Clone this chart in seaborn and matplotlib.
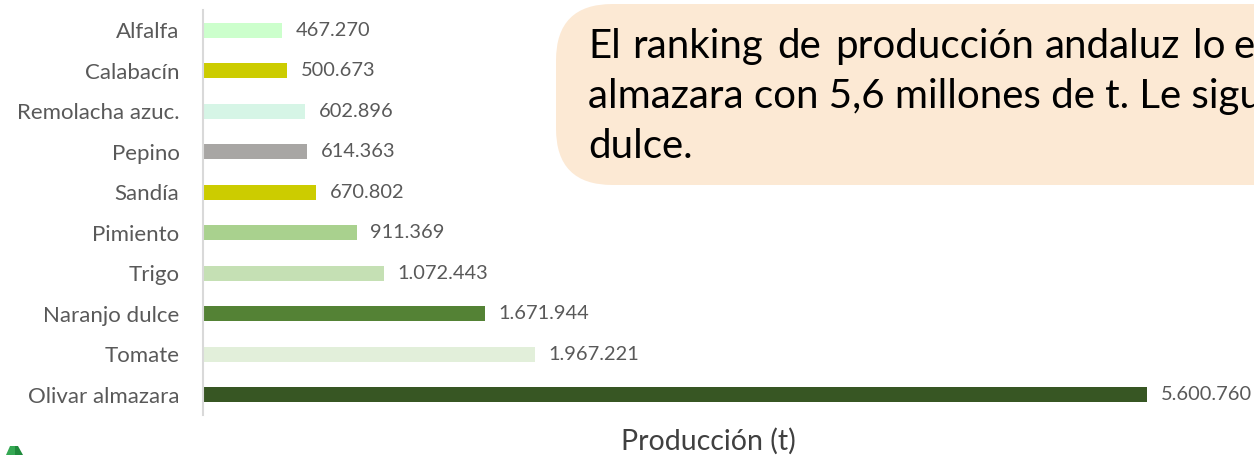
import matplotlib
matplotlib.use("Agg")
import matplotlib.pyplot as plt
import seaborn as sns
import pandas as pd
from matplotlib.patches import FancyBboxPatch, Polygon

categories = ["Alfalfa", "Calabacín", "Remolacha azuc.", "Pepino", "Sandía",
              "Pimiento", "Trigo", "Naranjo dulce", "Tomate", "Olivar almazara"]
values = [467270, 500673, 602896, 614363, 670802,
          911369, 1072443, 1671944, 1967221, 5600760]
value_labels = ["467.270", "500.673", "602.896", "614.363", "670.802",
                "911.369", "1.072.443", "1.671.944", "1.967.221", "5.600.760"]
colors = ["#ccffcc", "#cccc00", "#d6f5e6", "#a8a6a4", "#cccc00",
          "#a9d18e", "#c5e0b4", "#548235", "#e2efda", "#375623"]
xlabel = "Producción (t)"
note_line1 = ["El", "ranking", "de", "producción", "andaluz", "lo", "e"]
note_line2 = "almazara con 5,6 millones de t. Le sigu"
note_line3 = "dulce."

sns.set_theme(style="white")
plt.rcParams["font.family"] = ["Lato", "DejaVu Sans"]

df = pd.DataFrame({"cat": categories, "val": values})
W, H = 1254, 455
fig = plt.figure(figsize=(W / 100, H / 100), dpi=100)
ax = fig.add_axes([203 / W, (H - 415) / H, (W - 203) / W, 405 / H])

sns.barplot(data=df, y="cat", x="val", hue="cat", palette=dict(zip(categories, colors)),
            order=categories, orient="h", width=0.37, legend=False, ax=ax,
            saturation=1, linewidth=0)

ax.set_xlim(0, (W - 203) / 944 * 5600760)
ax.set_ylim(len(categories) - 0.5, -0.5)
for s in ["top", "right", "bottom"]:
    ax.spines[s].set_visible(False)
ax.spines["left"].set_color("#d9d9d9")
ax.spines["left"].set_linewidth(1.5)
ax.set_xticks([])
ax.set_ylabel("")
ax.set_xlabel("")
ax.tick_params(axis="y", length=0, pad=17, labelsize=16, labelcolor="#595959")

for i, (v, lab) in enumerate(zip(values, value_labels)):
    ax.annotate(lab, (v, i), xytext=(10, 0), textcoords="offset points",
                va="center", ha="left", fontsize=14.4, color="#595959")

fig.text(708 / W, 1 - 441 / H, xlabel, ha="center", va="center", fontsize=20.5, color="#404040")

# note box
box = FancyBboxPatch((556 / W, 1 - 185 / H), 760 / W, 181 / H,
                     boxstyle="round,pad=0,rounding_size=0.045", transform=fig.transFigure,
                     facecolor="#fce9d4", edgecolor="none", zorder=5,
                     mutation_aspect=W / H)
fig.add_artist(box)
xs = [588, 632, 777, 835, 1045, 1193, 1233]
for w, x in zip(note_line1, xs):
    fig.text(x / W, 1 - 58 / H, w, ha="left", va="baseline", fontsize=29, color="black", zorder=6)
fig.text(588 / W, 1 - 108 / H, note_line2, ha="left", va="baseline", fontsize=29, color="black", zorder=6)
fig.text(588 / W, 1 - 158 / H, note_line3, ha="left", va="baseline", fontsize=29, color="black", zorder=6)

# logo fragment
logo_l = Polygon([[6 / W, 0], [10 / W, 1 - 446 / H], [15 / W, 1 - 446 / H], [15 / W, 0]],
                 closed=True, transform=fig.transFigure, facecolor="#35a853", edgecolor="none")
logo_r = Polygon([[15 / W, 0], [15 / W, 1 - 446 / H], [18 / W, 1 - 446 / H], [23 / W, 0]],
                 closed=True, transform=fig.transFigure, facecolor="#1f8a3c", edgecolor="none")
fig.add_artist(logo_l)
fig.add_artist(logo_r)

fig.savefig("out.png", dpi=100)
